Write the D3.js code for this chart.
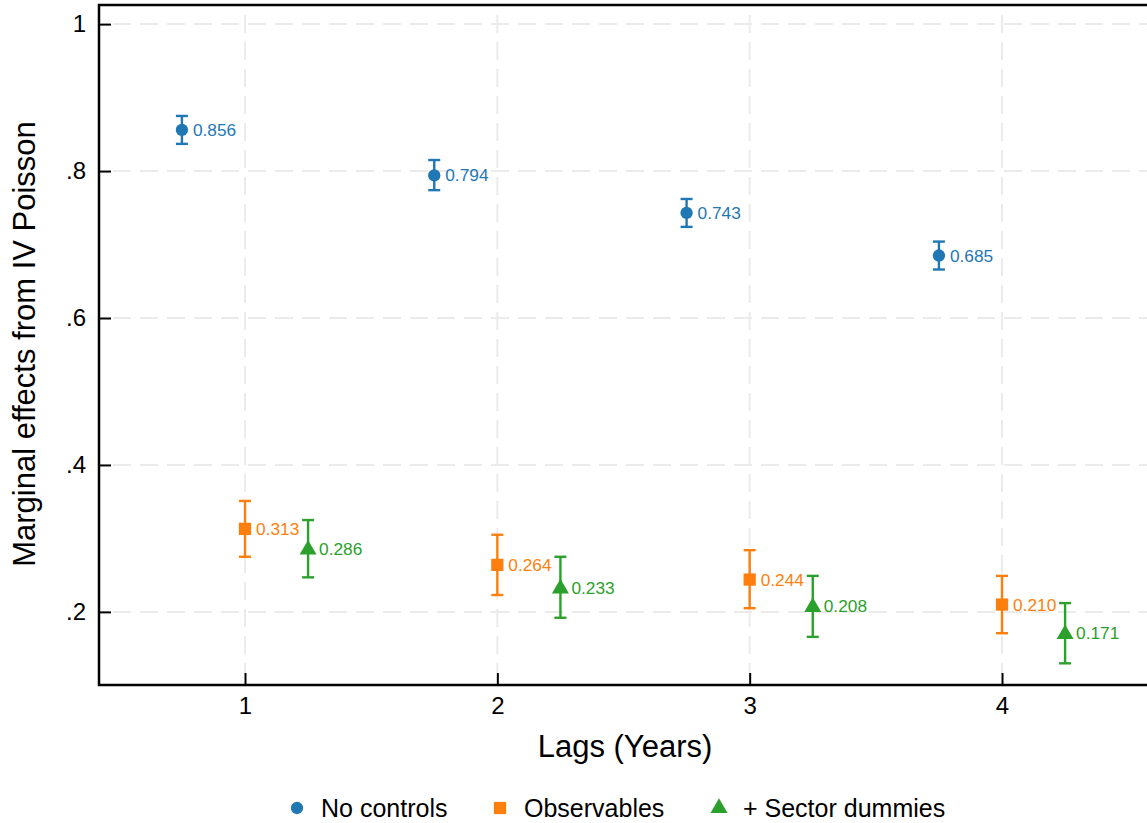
<!DOCTYPE html>
<html>
<head>
<meta charset="utf-8">
<script src="https://cdn.jsdelivr.net/npm/d3@7"></script>
<style>
  body { margin: 0; background: #fff; }
  svg { display: block; font-family: "Liberation Sans", Arial, sans-serif; }
</style>
</head>
<body>
<svg width="1147" height="823"></svg>
<script>
// lags on the x axis
var lags = [1, 2, 3, 4];

// point estimates and 95% bounds
var noControls = [0.856, 0.794, 0.743, 0.685];
var noControlsLo = [0.837, 0.774, 0.724, 0.666];
var noControlsHi = [0.875, 0.815, 0.762, 0.704];

var observables = [0.313, 0.264, 0.244, 0.210];
var observablesLo = [0.275, 0.223, 0.205, 0.171];
var observablesHi = [0.351, 0.305, 0.284, 0.249];

var sector = [0.286, 0.233, 0.208, 0.171];
var sectorLo = [0.247, 0.192, 0.166, 0.130];
var sectorHi = [0.325, 0.275, 0.249, 0.212];

var yTicks = [0.2, 0.4, 0.6, 0.8, 1];
var yTickLabels = [".2", ".4", ".6", ".8", "1"];

var seriesNames = ["No controls", "Observables", "+ Sector dummies"];
var seriesColors = ["#1f77b4", "#ff7f0e", "#2ca02c"];
var seriesShapes = [d3.symbolCircle, d3.symbolSquare, d3.symbolTriangle];
var seriesSizes = [120, 150, 125];
var seriesOffsets = [-0.25, 0, 0.25];

var series = [
  {est: noControls, lo: noControlsLo, hi: noControlsHi},
  {est: observables, lo: observablesLo, hi: observablesHi},
  {est: sector, lo: sectorLo, hi: sectorHi}
];

var svg = d3.select("svg");
var plotLeft = 99, plotRight = 1147, plotTop = 5, plotBottom = 685;

var x = d3.scaleLinear().domain([0.4214, 4.5746]).range([plotLeft, plotRight]);
var y = d3.scaleLinear().domain([0.1005, 1.026]).range([plotBottom, plotTop]);

// grid
var grid = svg.append("g")
  .attr("stroke", "#ebebeb")
  .attr("stroke-width", 2)
  .attr("stroke-dasharray", "18,9");

grid.selectAll("line.h")
  .data(yTicks)
  .enter()
    .append("line")
    .attr("class", "h")
    .attr("x1", plotLeft + 14).attr("x2", plotRight)
    .attr("y1", function(d) { return y(d); })
    .attr("y2", function(d) { return y(d); });

grid.selectAll("line.v")
  .data(lags)
  .enter()
    .append("line")
    .attr("class", "v")
    .attr("y1", plotTop + 10).attr("y2", plotBottom - 12)
    .attr("x1", function(d) { return x(d); })
    .attr("x2", function(d) { return x(d); });

// axes
var yAxis = d3.axisRight(y)
  .tickValues(yTicks)
  .tickFormat(function(d, i) { return yTickLabels[i]; })
  .tickSize(12)
  .tickSizeOuter(0);

var yg = svg.append("g")
  .attr("transform", "translate(" + plotLeft + ",0)")
  .call(yAxis);
yg.select(".domain").remove();
yg.selectAll(".tick line").attr("stroke", "#000").attr("stroke-width", 2);
yg.selectAll(".tick text")
  .attr("x", -13)
  .attr("text-anchor", "end")
  .attr("font-size", 24)
  .attr("font-family", "Liberation Sans, Arial, sans-serif")
  .attr("fill", "#000");

var xAxis = d3.axisTop(x)
  .tickValues(lags)
  .tickFormat(d3.format("d"))
  .tickSize(12)
  .tickSizeOuter(0);

var xg = svg.append("g")
  .attr("transform", "translate(0," + plotBottom + ")")
  .call(xAxis);
xg.select(".domain").remove();
xg.selectAll(".tick line").attr("stroke", "#000").attr("stroke-width", 2);
xg.selectAll(".tick text")
  .attr("y", 29)
  .attr("dy", 0)
  .attr("font-size", 24)
  .attr("font-family", "Liberation Sans, Arial, sans-serif")
  .attr("fill", "#000");

// frame: left, top, bottom
svg.append("path")
  .attr("d", "M" + plotRight + "," + plotTop + "H" + plotLeft + "V" + plotBottom + "H" + plotRight)
  .attr("fill", "none")
  .attr("stroke", "#000")
  .attr("stroke-width", 2.5);

// axis titles
svg.append("text")
  .attr("x", 625).attr("y", 757)
  .attr("text-anchor", "middle")
  .attr("font-size", 31)
  .text("Lags (Years)");

svg.append("text")
  .attr("transform", "translate(35," + 344 + ") rotate(-90)")
  .attr("text-anchor", "middle")
  .attr("font-size", 31)
  .text("Marginal effects from IV Poisson");

// series
series.forEach(function(s, k) {
  var rows = lags.map(function(l, i) {
    return {lag: l, est: s.est[i], lo: s.lo[i], hi: s.hi[i]};
  });
  var g = svg.append("g").attr("stroke", seriesColors[k]).attr("fill", seriesColors[k]);
  var px = function(d) { return x(d.lag + seriesOffsets[k]); };

  g.selectAll("line.bar")
    .data(rows)
    .enter()
      .append("line")
      .attr("stroke-width", 2.4)
      .attr("x1", px).attr("x2", px)
      .attr("y1", function(d) { return y(d.lo); })
      .attr("y2", function(d) { return y(d.hi); });

  ["lo", "hi"].forEach(function(key) {
    g.selectAll("line.cap-" + key)
      .data(rows)
      .enter()
        .append("line")
        .attr("stroke-width", 2.4)
        .attr("x1", function(d) { return px(d) - 6; })
        .attr("x2", function(d) { return px(d) + 6; })
        .attr("y1", function(d) { return y(d[key]); })
        .attr("y2", function(d) { return y(d[key]); });
  });

  g.selectAll("path.mark")
    .data(rows)
    .enter()
      .append("path")
      .attr("stroke", "none")
      .attr("d", d3.symbol().type(seriesShapes[k]).size(seriesSizes[k]))
      .attr("transform", function(d) {
        return "translate(" + px(d) + "," + (y(d.est) + (k == 2 ? 1 : 0)) + ")";
      });

  g.selectAll("text.lab")
    .data(rows)
    .enter()
      .append("text")
      .attr("stroke", "none")
      .attr("font-size", 17.3)
      .attr("x", function(d) { return px(d) + 11; })
      .attr("y", function(d) { return y(d.est) + 6; })
      .text(function(d) { return d3.format(".3f")(d.est); });
});

// legend
var legendX = [297, 500, 719];
var legend = svg.selectAll("g.legend")
  .data(seriesNames)
  .enter()
    .append("g")
    .attr("transform", function(d, i) { return "translate(" + legendX[i] + ",808)"; });

legend.append("path")
  .attr("d", function(d, i) { return d3.symbol().type(seriesShapes[i]).size(seriesSizes[i])(); })
  .attr("fill", function(d, i) { return seriesColors[i]; });

legend.append("text")
  .attr("x", 24).attr("y", 9)
  .attr("font-size", 25)
  .text(function(d) { return d; });
</script>
</body>
</html>
